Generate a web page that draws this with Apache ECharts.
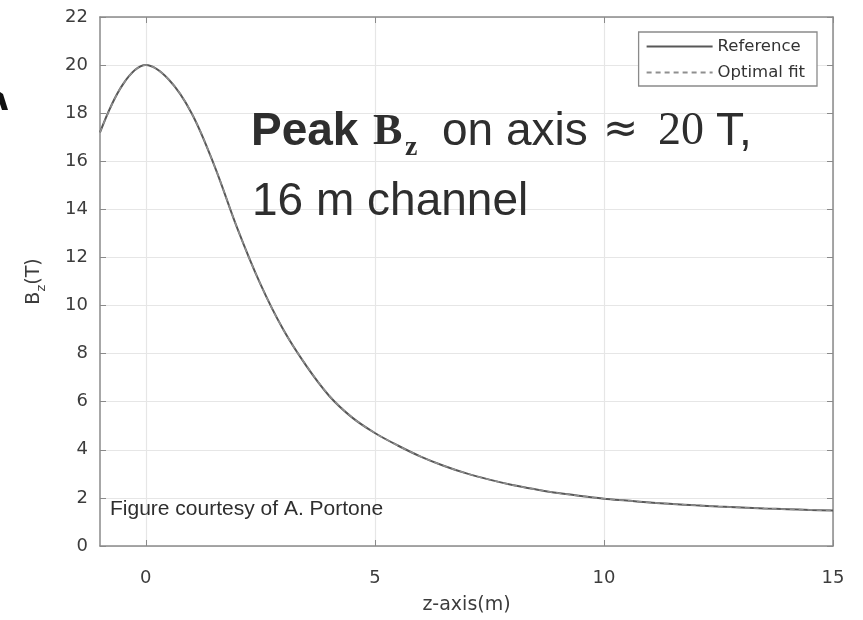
<!DOCTYPE html>
<html>
<head>
<meta charset="utf-8">
<script src="https://cdn.jsdelivr.net/npm/echarts@6/dist/echarts.min.js"></script>
<style>html,body{margin:0;padding:0;background:#fff}#c{width:863px;height:620px}</style>
</head>
<body>
<div id="c"></div>
<script>
var zValues = [-1, -0.5, 0, 0.5, 1, 1.5, 2, 2.5, 3, 3.5, 4, 4.5, 5, 5.5, 6, 6.5, 7, 7.5, 8, 8.5, 9, 9.5, 10, 10.5, 11, 11.5, 12, 12.5, 13, 13.5, 14, 14.5, 15];
var referenceValues = [17.2, 19.2, 20.0, 19.4, 18.0, 15.8, 13.2, 10.9, 9.0, 7.5, 6.25, 5.35, 4.7, 4.18, 3.72, 3.34, 3.02, 2.76, 2.54, 2.36, 2.2, 2.08, 1.97, 1.89, 1.81, 1.75, 1.69, 1.64, 1.6, 1.56, 1.53, 1.5, 1.48];
var fitValues = [17.2, 19.2, 20.0, 19.4, 18.0, 15.8, 13.2, 10.9, 9.0, 7.52, 6.27, 5.36, 4.7, 4.18, 3.72, 3.34, 3.02, 2.76, 2.54, 2.36, 2.2, 2.08, 1.97, 1.89, 1.81, 1.75, 1.69, 1.64, 1.6, 1.56, 1.53, 1.5, 1.48];
var seriesNames = ['Reference', 'Optimal fit'];
var xTicks = [0, 5, 10, 15];

function pairs(xs, ys) { return xs.map(function (x, i) { return [x, ys[i]]; }); }

var chart = echarts.init(document.getElementById('c'), null, {renderer: 'canvas'});
var sans = 'Liberation Sans, Arial, sans-serif';
var wide = 'DejaVu Sans, sans-serif';
var axisCol = '#8a8a8a';
var labelCol = '#3c3c3c';
var txtCol = '#2e2e2e';
function t(str, x, top, font, size, weight) {
  return {type: 'text', x: x, y: top, z: 100,
    style: {text: str, fontFamily: font, fontSize: size, fontWeight: weight || 'normal', fill: txtCol}};
}
var option = {
  animation: false,
  backgroundColor: '#ffffff',
  grid: {left: 100, right: 30, top: 17, bottom: 73, containLabel: false},
  legend: {
    orient: 'vertical', right: 46, top: 32,
    data: seriesNames,
    itemWidth: 66, itemHeight: 14, itemGap: 9,
    padding: [6, 12, 5, 7],
    borderColor: '#8a8a8a', borderWidth: 1.3, backgroundColor: '#fff',
    itemStyle: {opacity: 0},
    textStyle: {fontFamily: wide, fontSize: 16.5, color: '#333'},
    align: 'left'
  },
  xAxis: [{
    type: 'value', min: -1, max: 15, interval: 1,
    name: 'z-axis(m)', nameLocation: 'middle', nameGap: 50,
    nameTextStyle: {fontFamily: wide, fontSize: 19, color: labelCol},
    axisLine: {onZero: false, lineStyle: {color: axisCol, width: 1.5}},
    axisTick: {inside: true, length: 6, lineStyle: {color: axisCol}, customValues: xTicks},
    axisLabel: {fontFamily: wide, fontSize: 18, color: labelCol, margin: 23, customValues: xTicks},
    splitLine: {show: true, lineStyle: {color: '#e6e6e6', width: 1.2}, customValues: xTicks}
  }, {
    type: 'value', min: -1, max: 15, interval: 1, position: 'top',
    axisLine: {show: true, onZero: false, lineStyle: {color: axisCol, width: 1.5}},
    axisTick: {show: true, inside: true, length: 6, lineStyle: {color: axisCol}, customValues: xTicks},
    axisLabel: {show: false}, splitLine: {show: false}
  }],
  yAxis: [{
    type: 'value', min: 0, max: 22, interval: 2,
    name: '{b|B}{s|z}{b|(T)}', nameLocation: 'middle', nameGap: 53, nameRotate: 90,
    nameTextStyle: {
      rich: {
        b: {fontFamily: wide, fontSize: 19, color: labelCol, lineHeight: 22, verticalAlign: 'top'},
        s: {fontFamily: wide, fontSize: 13, color: labelCol, lineHeight: 15, padding: [10, 0, 0, 0], verticalAlign: 'top'}
      }
    },
    axisLine: {show: true, onZero: false, lineStyle: {color: axisCol, width: 1.5}},
    axisTick: {inside: true, length: 6, lineStyle: {color: axisCol}},
    axisLabel: {fontFamily: wide, fontSize: 18, color: labelCol, margin: 12},
    splitLine: {show: true, lineStyle: {color: '#e6e6e6', width: 1.2}}
  }, {
    type: 'value', min: 0, max: 22, interval: 2, position: 'right',
    axisLine: {show: true, onZero: false, lineStyle: {color: axisCol, width: 1.5}},
    axisTick: {show: true, inside: true, length: 6, lineStyle: {color: axisCol}},
    axisLabel: {show: false}, splitLine: {show: false}
  }],
  series: [{
    name: seriesNames[0], type: 'line', smooth: 0.35, symbol: 'none',
    data: pairs(zValues, referenceValues),
    lineStyle: {color: '#585858', width: 2}, itemStyle: {color: '#585858'}
  }, {
    name: seriesNames[1], type: 'line', smooth: 0.35, symbol: 'none',
    data: pairs(zValues, fitValues),
    lineStyle: {color: '#8f8f8f', width: 1.5, type: [5, 4]}, itemStyle: {color: '#8f8f8f'}
  }],
  graphic: [
    t('Peak', 251, 109, sans, 46, 'bold'),
    t('B', 373, 111, 'Liberation Serif, serif', 44, 'bold'),
    t('z', 405, 134, 'Liberation Serif, serif', 28, 'bold'),
    t('on axis', 442, 109, sans, 46),
    t('≈', 603, 110, wide, 42),
    t('20', 658, 109, 'Liberation Serif, serif', 46),
    t('T,', 716, 109, sans, 46),
    t('16 m channel', 252, 179, sans, 46),
    t('Figure courtesy of A. Portone', 110, 499, sans, 21),
    {type: 'polygon', z: 100, shape: {points: [[0, 92], [3, 94], [8, 110], [2, 110], [0, 104]]}, style: {fill: '#111'}}
  ]
};
chart.setOption(option);
</script>
</body>
</html>
